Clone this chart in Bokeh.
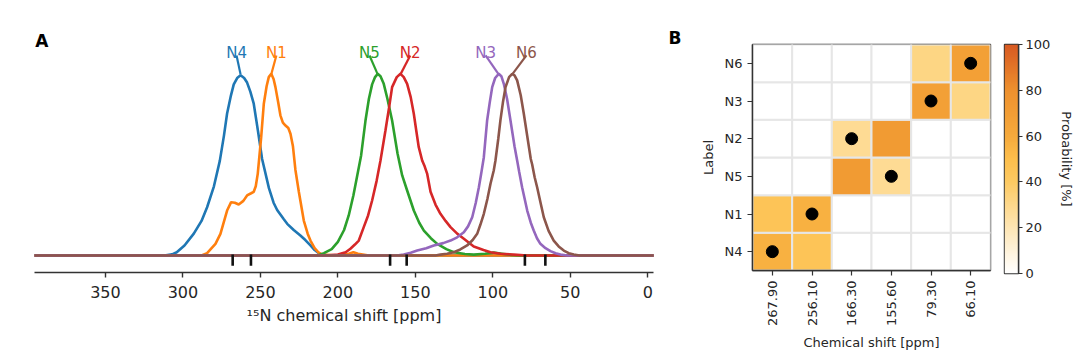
import numpy as np
from bokeh.plotting import figure
from bokeh.layouts import row
from bokeh.models import Range1d, FixedTicker, Label, LinearColorMapper, ColumnDataSource
from bokeh.core.properties import value
from bokeh.embed import file_html
from bokeh.resources import INLINE

FONT = "DejaVu Sans"
TXT = "#262626"

# ---------------- Panel A data: 15N chemical shift distributions ----------------
labels_a = ["N4", "N1", "N5", "N2", "N3", "N6"]
colors_a = ["#1f77b4", "#ff7f0e", "#2ca02c", "#d62728", "#9467bd", "#8c564b"]

ppm_n4 = [396, 312, 307, 304, 299, 293, 288, 284.4, 280, 276.2, 273.5, 271.5, 269, 267.2, 265,
          262.8, 260.5, 258.6, 256.5, 254.3, 251.5, 248.9, 244.5, 241.5, 239.2, 235, 232.7,
          228.5, 224.2, 221, 217.7, 215, 212.3, 210, -4]
int_n4 = [0, 0, 0.006, 0.018, 0.055, 0.12, 0.19, 0.265, 0.38, 0.52, 0.66, 0.78, 0.88, 0.94, 0.975,
          0.99, 0.975, 0.95, 0.9, 0.834, 0.68, 0.53, 0.37, 0.29, 0.25, 0.2, 0.174,
          0.14, 0.11, 0.085, 0.055, 0.03, 0.013, 0, 0]

ppm_n1 = [396, 288, 284.4, 279, 275.8, 271.5, 268.9, 266.5, 264, 261, 258.6, 256, 254.3, 253,
          251.7, 249.5, 247.8, 246, 244.6, 243, 241.5, 240.3, 238.5, 237.1, 235.5, 233.8, 232,
          230.6, 229, 227.4, 225.2, 222, 219.5, 217.7, 215, 212.3, 210, 200, 193, 190, 187, 180, -4]
int_n1 = [0, 0, 0.013, 0.064, 0.119, 0.247, 0.293, 0.29, 0.28, 0.3, 0.33, 0.342, 0.35, 0.38,
          0.45, 0.65, 0.834, 0.93, 0.98, 0.998, 0.97, 0.925, 0.84, 0.77, 0.73, 0.714, 0.70,
          0.669, 0.6, 0.47, 0.35, 0.192, 0.12, 0.082, 0.04, 0.015, 0.005, 0, 0.01, 0.018, 0.01, 0, 0]

ppm_n5 = [396, 213, 209, 204, 200, 196, 193, 190, 187.5, 185, 182.2, 180, 177.9, 176, 174.3,
          172.5, 170.4, 168, 165, 161.5, 158.5, 155.3, 151, 147.5, 144.5, 140, 135.9, 130,
          125.2, 118, 112.3, 105, 99.4, 94, 88, 82, -4]
int_n5 = [0, 0, 0.013, 0.035, 0.075, 0.14, 0.22, 0.33, 0.44, 0.55, 0.74, 0.86, 0.94, 0.98, 0.998,
          0.985, 0.943, 0.86, 0.742, 0.56, 0.44, 0.357, 0.247, 0.18, 0.137, 0.095, 0.064, 0.035,
          0.018, 0.008, 0.005, 0.01, 0.016, 0.01, 0.003, 0, 0]

ppm_n2 = [396, 208, 200, 195, 191.9, 189, 186.5, 183.3, 180.5, 177.9, 175, 172.5, 169.3, 167,
          165, 162, 159.6, 157.5, 155.3, 153, 151, 149.3, 147.8, 145.6, 144, 142.4, 140.2, 137,
          133.8, 130.5, 127.3, 123, 118.7, 112.3, 106, 101.5, 95, 86.5, 78, -4]
int_n2 = [0, 0, 0.005, 0.018, 0.037, 0.06, 0.082, 0.156, 0.22, 0.302, 0.41, 0.522, 0.687, 0.81,
          0.925, 0.98, 0.998, 0.98, 0.943, 0.87, 0.779, 0.68, 0.595, 0.522, 0.49, 0.45, 0.35, 0.28,
          0.229, 0.19, 0.156, 0.12, 0.092, 0.049, 0.03, 0.018, 0.01, 0.005, 0, 0]

ppm_n3 = [396, 162, 157.5, 153, 148.8, 143, 138.1, 132, 127.3, 123, 118.7, 116, 113.3, 111, 109,
          107.5, 105.8, 103.7, 102, 100.4, 98.5, 96.2, 94.5, 92.9, 90.8, 88.6, 86, 84.3, 83,
          81.1, 77.8, 75.5, 73.6, 71.5, 69.3, 66, 62.8, 59.5, 56.3, 52, -4]
int_n3 = [0, 0, 0.005, 0.015, 0.027, 0.04, 0.055, 0.068, 0.082, 0.1, 0.128, 0.16, 0.21, 0.29, 0.375,
          0.45, 0.54, 0.74, 0.84, 0.925, 0.975, 0.998, 0.985, 0.943, 0.86, 0.742, 0.6, 0.522, 0.46,
          0.375, 0.247, 0.18, 0.137, 0.095, 0.064, 0.04, 0.024, 0.012, 0.005, 0, 0]

ppm_n6 = [396, 137, 133.8, 129.5, 125.2, 121, 116.6, 113, 110.1, 108, 105.8, 103.5, 101.5, 99.4,
          98.3, 96.5, 95.1, 93.5, 91.8, 89.5, 87.5, 86, 84.3, 82, 80, 77.5, 75.5, 74.6, 73, 71.4,
          69.2, 67.1, 64, 60.7, 57.5, 54.2, 51, 47.8, 44, -4]
int_n6 = [0, 0, 0.005, 0.01, 0.018, 0.033, 0.055, 0.085, 0.119, 0.17, 0.229, 0.31, 0.394, 0.467,
          0.522, 0.64, 0.742, 0.84, 0.925, 0.98, 0.998, 0.99, 0.962, 0.88, 0.779, 0.64, 0.53, 0.5,
          0.43, 0.375, 0.29, 0.21, 0.135, 0.082, 0.05, 0.027, 0.013, 0.005, 0, 0]

curves_ppm = [ppm_n4, ppm_n1, ppm_n5, ppm_n2, ppm_n3, ppm_n6]
curves_int = [int_n4, int_n1, int_n5, int_n2, int_n3, int_n6]

# label anchors (ppm) for the curve names
label_pos_a = [265.4, 239.7, 179.6, 153.3, 104.7, 78.3]

# experimental shifts (rug marks) and x ticks
exp_shifts = [267.9, 256.1, 166.3, 155.6, 79.3, 66.1]
xticks_a = [0, 50, 100, 150, 200, 250, 300, 350]

# ---------------- Panel B data: assignment probabilities ----------------
row_labels = ["N4", "N1", "N5", "N2", "N3", "N6"]          # bottom -> top
col_labels = ["267.90", "256.10", "166.30", "155.60", "79.30", "66.10"]
prob = [
    [57, 45, 0, 0, 0, 0],   # N4
    [45, 57, 0, 0, 0, 0],   # N1
    [0, 0, 72, 28, 0, 0],   # N5
    [0, 0, 28, 72, 0, 0],   # N2
    [0, 0, 0, 0, 68, 32],   # N3
    [0, 0, 0, 0, 32, 68],   # N6
]
true_shift = {"N4": "267.90", "N1": "256.10", "N5": "155.60",
              "N2": "166.30", "N3": "79.30", "N6": "66.10"}
cbar_ticks = [0, 20, 40, 60, 80, 100]

# ---------------- colormap ----------------
stops_v = [0, 20, 40, 50, 60, 80, 100]
stops_c = ["#ffffff", "#fee6b4", "#fdca62", "#fdbf4c", "#f6aa3c", "#ee912e", "#d85a22"]
def _rgb(h):
    return [int(h[i:i + 2], 16) for i in (1, 3, 5)]
rgbs = np.array([_rgb(c) for c in stops_c], dtype=float)
vv = np.linspace(0, 100, 256)
palette = []
for v in vv:
    r = np.interp(v, stops_v, rgbs[:, 0]); g = np.interp(v, stops_v, rgbs[:, 1]); b = np.interp(v, stops_v, rgbs[:, 2])
    palette.append("#%02x%02x%02x" % (int(round(r)), int(round(g)), int(round(b))))
mapper = LinearColorMapper(palette=palette, low=0, high=100)

H = 352

# ================= Panel A figure =================
pA = figure(width=668, height=H, x_range=Range1d(395.8, -3.7), y_range=Range1d(-0.0934, 1.247),
            output_backend="svg", toolbar_location=None, y_axis_location=None,
            min_border_left=34, min_border_right=15, min_border_top=28, min_border_bottom=H - 272)
pA.outline_line_color = None
pA.grid.visible = False
for xs, ys, c in zip(curves_ppm, curves_int, colors_a):
    pA.line(xs, ys, line_color=c, line_width=2.6)

peak_x = [xs[int(np.argmax(ys))] for xs, ys in zip(curves_ppm, curves_int)]
pA.segment(x0=label_pos_a, y0=[1.099] * 6, x1=peak_x, y1=[0.995] * 6,
           line_color=colors_a, line_width=2.2)
pA.text(x=label_pos_a, y=[1.112] * 6, text=labels_a, text_color=colors_a,
        text_font=value(FONT), text_font_size="15px", text_align="center",
        text_baseline="alphabetic")
pA.segment(x0=exp_shifts, y0=[0.006] * 6, x1=exp_shifts, y1=[-0.056] * 6,
           line_color="#111111", line_width=2.6)

ax = pA.xaxis[0]
ax.ticker = FixedTicker(ticks=xticks_a)
ax.axis_label = "\u00b9\u2075N chemical shift [ppm]"
ax.axis_label_text_font = FONT
ax.axis_label_text_font_style = "normal"
ax.axis_label_text_font_size = "16px"
ax.axis_label_text_color = TXT
ax.axis_label_standoff = 5
ax.major_label_text_font = FONT
ax.major_label_text_font_size = "16px"
ax.major_label_text_color = TXT
ax.major_label_standoff = 8
ax.axis_line_color = "#333333"
ax.axis_line_width = 1.4
ax.major_tick_line_color = "#333333"
ax.major_tick_line_width = 1.4
ax.major_tick_out = 5
ax.major_tick_in = 0
ax.minor_tick_line_color = None

pA.add_layout(Label(x=395.3, y=1.18, text="A", text_font=FONT, text_font_style="bold",
                    text_font_size="17px", text_color="#000000", text_baseline="middle",
                    text_align="left"))

# ================= Panel B figure =================
pB = figure(width=328, height=H, x_range=Range1d(-0.5, 5.5), y_range=Range1d(-0.5, 5.5),
            output_backend="svg", toolbar_location=None,
            min_border_left=84, min_border_right=6, min_border_top=44, min_border_bottom=H - 273)
pB.grid.visible = False
pB.outline_line_color = "#333333"
pB.outline_line_width = 1.4
pB.title.text = "B"
pB.title.align = "left"
pB.title.offset = -84
pB.title.standoff = -6
pB.title.text_font = FONT
pB.title.text_font_style = "bold"
pB.title.text_font_size = "17px"
pB.title.text_color = "#000000"

cx, cy, cv = [], [], []
for i, r in enumerate(row_labels):
    for j, c in enumerate(col_labels):
        cx.append(j); cy.append(i); cv.append(prob[i][j])
src = ColumnDataSource(dict(x=cx, y=cy, prob=cv))
pB.rect(x="x", y="y", width=1, height=1, source=src,
        fill_color={"field": "prob", "transform": mapper},
        line_color="#e6e6e6", line_width=2)
dx = [col_labels.index(true_shift[r]) for r in row_labels]
dy = list(range(len(row_labels)))
pB.scatter(x=dx, y=dy, size=12, fill_color="#000000", line_color="#000000")

bx = pB.xaxis[0]
bx.ticker = FixedTicker(ticks=list(range(len(col_labels))))
bx.major_label_overrides = {i: l for i, l in enumerate(col_labels)}
bx.major_label_orientation = np.pi / 2
bx.axis_label = "Chemical shift [ppm]"
by = pB.yaxis[0]
by.ticker = FixedTicker(ticks=list(range(len(row_labels))))
by.major_label_overrides = {i: l for i, l in enumerate(row_labels)}
by.axis_label = "Label"
for a in (bx, by):
    a.axis_label_text_font = FONT
    a.axis_label_text_font_style = "normal"
    a.axis_label_text_font_size = "13px"
    a.axis_label_text_color = TXT
    a.axis_label_standoff = 6
    a.major_label_text_font = FONT
    a.major_label_text_font_size = "13px"
    a.major_label_text_color = TXT
    a.major_label_standoff = 5
    a.axis_line_color = "#333333"
    a.axis_line_width = 1.4
    a.major_tick_line_color = "#333333"
    a.major_tick_line_width = 1.2
    a.major_tick_out = 5
    a.major_tick_in = 0
    a.minor_tick_line_color = None

# ================= Colorbar figure =================
pC = figure(width=82, height=H, x_range=Range1d(0, 1), y_range=Range1d(0, 100),
            output_backend="svg", toolbar_location=None, x_axis_location=None,
            y_axis_location="right",
            min_border_left=8, min_border_right=60, min_border_top=44, min_border_bottom=H - 273)
pC.grid.visible = False
pC.outline_line_color = "#333333"
pC.outline_line_width = 1.4
grad = np.linspace(0, 100, 256).reshape(256, 1)
pC.image(image=[grad], x=0, y=0, dw=1, dh=100, color_mapper=mapper)
cy_ax = pC.yaxis[0]
cy_ax.ticker = FixedTicker(ticks=cbar_ticks)
cy_ax.axis_label = "Probability [%]"
cy_ax.axis_label_text_font = FONT
cy_ax.axis_label_text_font_style = "normal"
cy_ax.axis_label_text_font_size = "13px"
cy_ax.axis_label_text_color = TXT
cy_ax.axis_label_standoff = 6
cy_ax.major_label_text_font = FONT
cy_ax.major_label_text_font_size = "13px"
cy_ax.major_label_text_color = TXT
cy_ax.major_label_standoff = 3
cy_ax.axis_line_color = "#333333"
cy_ax.axis_line_width = 1.4
cy_ax.major_tick_line_color = "#333333"
cy_ax.major_tick_out = 4
cy_ax.major_tick_in = 0
cy_ax.minor_tick_line_color = None

# keep each figure's frame where its own borders put it
for p in (pA, pB, pC):
    if "frame_align" in p.properties():
        p.frame_align = False

layout = row(pA, pB, pC)
open("out.html", "w").write(file_html(layout, INLINE))
